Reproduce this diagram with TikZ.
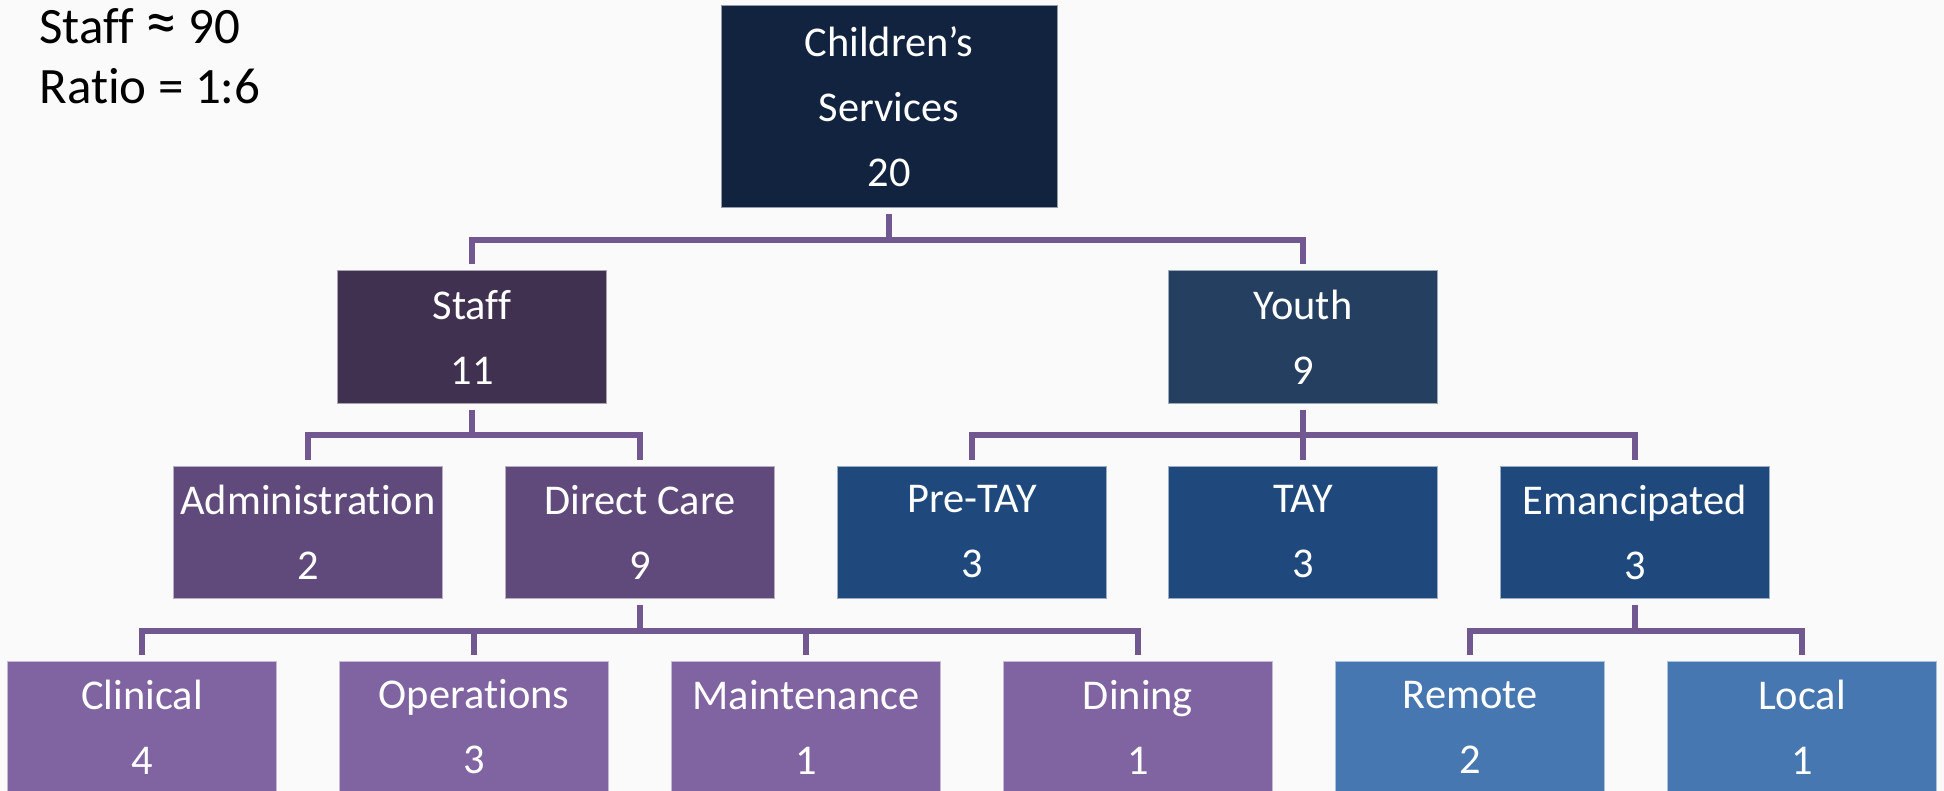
\documentclass[tikz,border=0pt]{standalone}
\usepackage{fontspec}
\setmainfont{Carlito}[Ligatures={NoCommon,NoContextual},RawFeature={-liga;-clig;-calt;-dlig}]
\usetikzlibrary{calc}
\definecolor{bg}{HTML}{FAFAFB}
\definecolor{rootc}{HTML}{12233F}
\definecolor{staffc}{HTML}{403151}
\definecolor{youthc}{HTML}{243F60}
\definecolor{staffsub}{HTML}{604A7B}
\definecolor{youthsub}{HTML}{1F497D}
\definecolor{carec}{HTML}{8064A2}
\definecolor{emanc}{HTML}{4677B1}
\definecolor{linkc}{HTML}{715891}
\begin{document}
\begin{tikzpicture}[x=0.5pt,y=-0.5pt,
  box/.style={rectangle, inner sep=0pt, minimum width=134.5pt, minimum height=66pt,
    text=white, align=center, font=\fontsize{21.2}{32.5}\selectfont,
    fill=#1, draw=#1!45!white, line width=0.5pt},
  conn/.style={draw=linkc, line width=2.9pt},
  note/.style={anchor=base west, inner sep=0pt, text=black, font=\fontsize{25.5}{30}\selectfont}]
  % canvas
  \fill[bg] (0,0) rectangle (1944,791);
  \useasboundingbox (0,0) rectangle (1944,791);
  \clip (0,0) rectangle (1944,791);

  % headcount notes
  \node[note] (n1) at (39,44) {Staff \smash{\fontsize{32}{30}\selectfont ≈} 90};
  \node[note] (n2) at (39,104) {Ratio = 1:6};

  % top
  \node[box=rootc, minimum width=168pt, minimum height=101pt] (root) at (889,107) {Children’s\\Services\\20};

  % second level
  \node[box=staffc] (staff) at (472,337) {Staff\\11};
  \node[box=youthc] (youth) at (1303,337) {Youth\\9};

  % third level
  \node[box=staffsub] (admin) at (308,532) {Administration\\2};
  \node[box=staffsub] (direct) at (640,532) {Direct Care\\9};
  \node[box=youthsub] (pretay) at (972,532) {Pre-TAY\\3};
  \node[box=youthsub] (tay) at (1303,532) {TAY\\3};
  \node[box=youthsub] (eman) at (1635,532) {Emancipated\\3};

  % fourth level
  \node[box=carec] (clin) at (142,727) {Clinical\\4};
  \node[box=carec] (oper) at (474,727) {Operations\\3};
  \node[box=carec] (maint) at (806,727) {Maintenance\\1};
  \node[box=carec] (dine) at (1138,727) {Dining\\1};
  \node[box=emanc] (remote) at (1470,727) {Remote\\2};
  \node[box=emanc] (local) at (1802,727) {Local\\1};

  % heights of the horizontal bars
  \coordinate (barA) at (0,240);
  \coordinate (barB) at (0,435);
  \coordinate (barC) at (0,631);

  % connectors
  \draw[conn] ($(root.south)+(0,6)$) -- (root |- barA);
  \draw[conn] ($(staff.north)+(0,-6)$) -- (staff |- barA) -- (youth |- barA) -- ($(youth.north)+(0,-6)$);

  \draw[conn] ($(staff.south)+(0,6)$) -- (staff |- barB);
  \draw[conn] ($(admin.north)+(0,-6)$) -- (admin |- barB) -- (direct |- barB) -- ($(direct.north)+(0,-6)$);

  \draw[conn] ($(youth.south)+(0,6)$) -- ($(tay.north)+(0,-6)$);
  \draw[conn] ($(pretay.north)+(0,-6)$) -- (pretay |- barB) -- (eman |- barB) -- ($(eman.north)+(0,-6)$);

  \draw[conn] ($(direct.south)+(0,6)$) -- (direct |- barC);
  \draw[conn] ($(clin.north)+(0,-6)$) -- (clin |- barC) -- (dine |- barC) -- ($(dine.north)+(0,-6)$);
  \draw[conn] ($(oper.north)+(0,-6)$) -- (oper |- barC);
  \draw[conn] ($(maint.north)+(0,-6)$) -- (maint |- barC);

  \draw[conn] ($(eman.south)+(0,6)$) -- (eman |- barC);
  \draw[conn] ($(remote.north)+(0,-6)$) -- (remote |- barC) -- (local |- barC) -- ($(local.north)+(0,-6)$);
\end{tikzpicture}
\end{document}
